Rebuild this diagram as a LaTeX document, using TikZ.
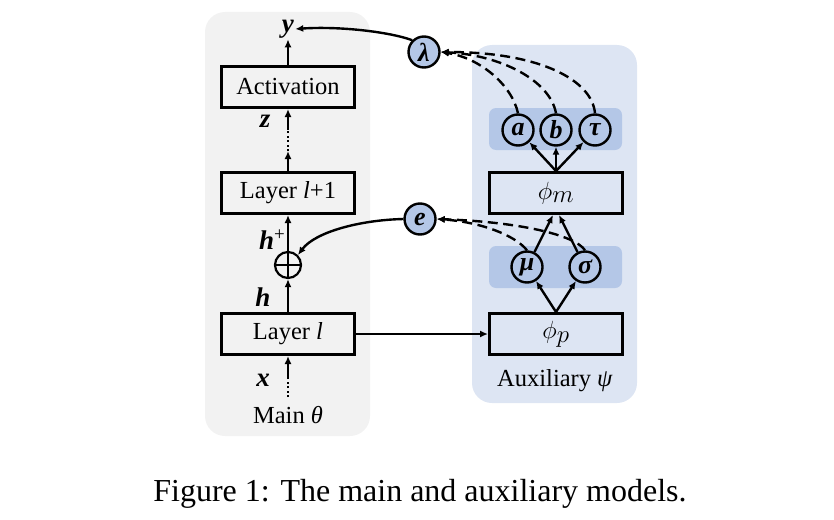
\documentclass[tikz,border=0pt]{standalone}
\usepackage{fontspec}
\setmainfont{Liberation Serif}
\usetikzlibrary{arrows.meta}
\definecolor{panelgray}{HTML}{F2F2F2}
\definecolor{panelblue}{HTML}{DDE5F3}
\definecolor{bandblue}{HTML}{B4C7E7}
\begin{document}
\begin{tikzpicture}[x=1pt,y=-1pt,
  box/.style={draw,line width=3pt,minimum width=133pt,minimum height=41pt,inner sep=0pt,font=\fontsize{24.5}{28}\selectfont},
  lab/.style={inner sep=1pt,font=\fontsize{27}{30}\selectfont},
  circ/.style={draw,circle,line width=2.4pt,minimum size=31pt,inner sep=0pt,font=\fontsize{26}{28}\selectfont\bfseries\itshape},
  arr/.style={line width=2.4pt,-{Latex[length=8pt,width=7pt]}},
  dasharr/.style={line width=2.4pt,dash pattern=on 10pt off 5.5pt,-{Latex[length=8pt,width=7pt]}},
  dotline/.style={line width=2.4pt,dash pattern=on 2pt off 2.5pt},
]
\useasboundingbox (0,0) rectangle (834,519);
% panels
\fill[panelgray, rounded corners=20pt] (205,12) rectangle (370,436);
\fill[panelblue, rounded corners=20pt] (472,45) rectangle (637,403);
\fill[bandblue, rounded corners=7pt] (489,108) rectangle (622,150);
\fill[bandblue, rounded corners=7pt] (489,246) rectangle (622,288);
% main model
\node[box] (act) at (288,87) {Activation};
\node[box] (lp1) at (288,193) {Layer \textit{l}+1};
\node[box] (ll) at (288,334) {Layer \textit{l}};
\node[draw,circle,line width=2.2pt,minimum size=26pt,inner sep=0pt] (op) at (288,265) {};
\draw[line width=2.2pt] (op.north) -- (op.south) (op.west) -- (op.east);
\node[lab] (y) at (288,29) {\textbf{\textit{y}}};
\node[lab] (z) at (265,121) {\textbf{\textit{z}}};
\node[lab] (hp) at (272,240) {\textbf{\textit{h}}\raisebox{9pt}{\fontsize{19}{20}\selectfont +}};
\node[lab] (h) at (263,297) {\textbf{\textit{h}}};
\node[lab] (x) at (263,380) {\textbf{\textit{x}}};
\node[lab,font=\fontsize{24.5}{28}\selectfont] (main) at (288,415) {Main \textit{θ}};
\coordinate (zlow) at (288,151);
\coordinate (zhigh) at (288,130);
\coordinate (xlow) at (288,397);
\coordinate (xhigh) at (288,377);
\draw[arr] (act.north) -- (y.south);
\draw[arr] (lp1.north) -- (zlow);
\draw[dotline] (zlow) -- (zhigh);
\draw[arr] (zhigh) -- (act.south);
\draw[arr] (op.north) -- (lp1.south);
\draw[arr] (ll.north) -- (op.south);
\draw[dotline] (xlow) -- (xhigh);
\draw[arr] (xhigh) -- (ll.south);
% auxiliary model
\node[box,font=\fontsize{33}{36}\selectfont] (phim) at (556,193) {$\phi_m$};
\node[box,font=\fontsize{33}{36}\selectfont] (phip) at (556,334) {$\phi_p$};
\node[circ] (a) at (518,130) {a};
\node[circ] (b) at (556,130) {b};
\node[circ] (tau) at (595,130) {τ};
\node[circ] (mu) at (527,267) {μ};
\node[circ] (sig) at (585,267) {σ};
\node[circ,fill=bandblue] (lam) at (424,52) {λ};
\node[circ,fill=bandblue] (e) at (420,219) {e};
\node[lab,font=\fontsize{24.5}{28}\selectfont] (aux) at (555,381) {Auxiliary \textit{ψ}};
\draw[arr] (ll.east) -- (phip.west);
\draw[arr] (phip.north) -- (mu);
\draw[arr] (phip.north) -- (sig);
\draw[arr] (mu) -- ([xshift=-3pt]phim.south);
\draw[arr] (sig) -- ([xshift=3pt]phim.south);
\draw[arr] (phim.north) -- (a);
\draw[arr] (phim.north) -- (b);
\draw[arr] (phim.north) -- (tau);
% dashed
\draw[dasharr] (a.north) .. controls (512,85) and (480,58) .. (lam.east);
\draw[dasharr] (b.north) .. controls (550,80) and (500,55) .. (lam.east);
\draw[dasharr] (tau.north) .. controls (592,80) and (540,52) .. (lam.east);
\draw[dasharr] (mu.north) .. controls (515,235) and (480,222) .. (e.east);
\draw[dasharr] (sig.north) .. controls (575,235) and (520,222) .. (e.east);
% solid curves
\draw[arr] (lam.north west) .. controls (390,32) and (340,26) .. (y.east);
\draw[arr] (e.west) .. controls (360,220) and (315,232) .. (op.north east);
% caption
\node (cap) at (420,494) {\fontsize{32}{36}\selectfont Figure 1: The main and auxiliary models.};
\end{tikzpicture}
\end{document}
